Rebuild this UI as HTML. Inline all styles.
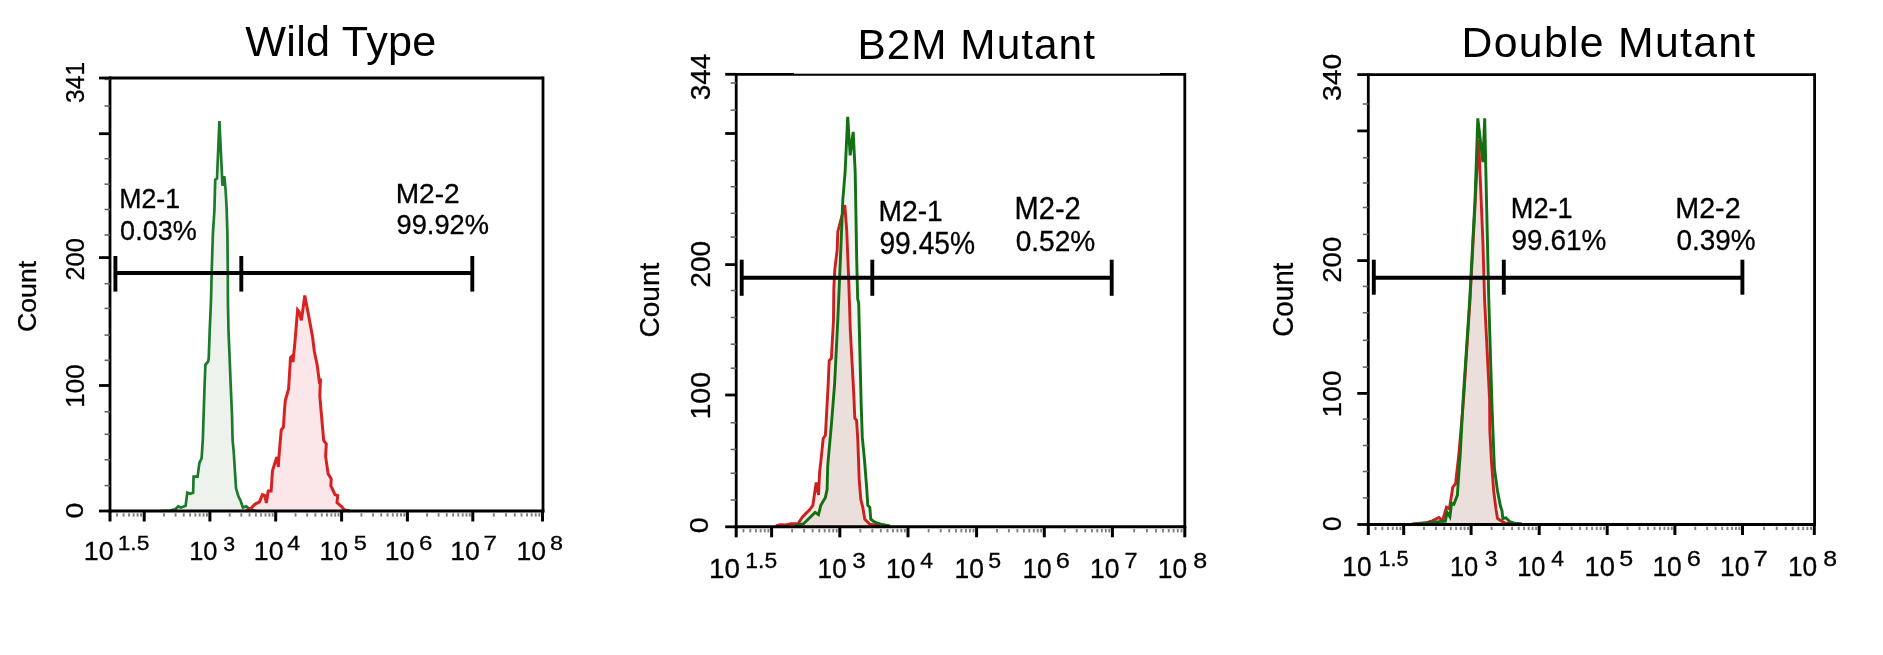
<!DOCTYPE html>
<html><head><meta charset="utf-8"><title>Flow cytometry histograms</title>
<style>html,body{margin:0;padding:0;background:#fff;} svg{display:block;} text{font-family:"Liberation Sans",sans-serif;font-size:100px;}</style>
</head><body>
<svg width="1883" height="655" viewBox="0 0 1883 655">
<rect width="1883" height="655" fill="#fff"/>
<polygon points="160.0,511.0 160.0,511.0 170.0,510.5 175.3,509.3 178.2,506.4 181.0,507.6 185.6,505.8 187.3,492.7 190.2,493.8 193.1,492.7 193.6,476.6 197.6,476.6 199.4,462.9 201.6,458.3 202.8,440.0 204.5,387.5 205.4,364.8 208.2,361.4 208.7,358.5 209.7,331.0 211.0,300.5 211.7,271.6 212.9,233.4 214.4,210.5 215.2,179.7 217.0,178.5 219.4,121.0 222.5,185.8 224.3,176.0 225.6,190.0 226.6,207.5 227.4,233.4 227.8,271.6 227.9,300.5 228.5,331.0 229.7,360.0 230.8,387.5 232.0,415.0 232.6,440.0 233.7,451.5 236.0,488.1 238.3,496.1 240.6,500.7 242.9,507.6 246.3,506.4 249.7,509.3 256.0,511.0 256.0,511.0" fill="#edf2ec" stroke="none" style="mix-blend-mode:multiply"/>
<polygon points="246.0,511.0 246.0,511.0 251.5,507.7 255.1,504.1 259.5,501.9 262.4,494.6 264.6,495.4 266.4,503.0 268.2,491.0 271.1,491.0 272.5,470.7 274.7,463.5 276.9,457.0 278.3,467.0 279.0,456.2 281.2,430.1 283.4,427.2 284.5,410.0 285.3,400.5 288.6,389.0 290.5,357.6 292.4,355.7 293.0,362.0 294.9,342.3 297.6,309.8 299.1,311.7 301.4,320.3 304.8,295.5 308.6,315.6 312.5,336.6 314.4,351.8 317.2,365.2 319.2,380.5 320.5,378.6 319.8,395.8 321.0,410.0 323.7,440.4 326.3,443.9 325.6,456.1 328.1,473.7 331.2,479.0 330.9,486.0 335.1,494.7 337.7,495.6 337.0,502.6 342.1,507.0 343.9,509.6 350.0,511.0 350.0,511.0" fill="#fbe7e9" stroke="none" style="mix-blend-mode:multiply"/>
<line x1="116.98" y1="513.20" x2="116.98" y2="516.60" stroke="#808080" stroke-width="1.9" stroke-linecap="butt"/>
<line x1="123.61" y1="513.20" x2="123.61" y2="516.60" stroke="#808080" stroke-width="1.9" stroke-linecap="butt"/>
<line x1="129.03" y1="513.20" x2="129.03" y2="516.60" stroke="#808080" stroke-width="1.9" stroke-linecap="butt"/>
<line x1="133.60" y1="513.20" x2="133.60" y2="516.60" stroke="#808080" stroke-width="1.9" stroke-linecap="butt"/>
<line x1="137.57" y1="513.20" x2="137.57" y2="516.60" stroke="#808080" stroke-width="1.9" stroke-linecap="butt"/>
<line x1="141.07" y1="513.20" x2="141.07" y2="516.60" stroke="#808080" stroke-width="1.9" stroke-linecap="butt"/>
<line x1="163.98" y1="513.20" x2="163.98" y2="516.60" stroke="#808080" stroke-width="1.9" stroke-linecap="butt"/>
<line x1="175.55" y1="513.20" x2="175.55" y2="516.60" stroke="#808080" stroke-width="1.9" stroke-linecap="butt"/>
<line x1="183.76" y1="513.20" x2="183.76" y2="516.60" stroke="#808080" stroke-width="1.9" stroke-linecap="butt"/>
<line x1="190.12" y1="513.20" x2="190.12" y2="516.60" stroke="#808080" stroke-width="1.9" stroke-linecap="butt"/>
<line x1="195.32" y1="513.20" x2="195.32" y2="516.60" stroke="#808080" stroke-width="1.9" stroke-linecap="butt"/>
<line x1="199.72" y1="513.20" x2="199.72" y2="516.60" stroke="#808080" stroke-width="1.9" stroke-linecap="butt"/>
<line x1="203.53" y1="513.20" x2="203.53" y2="516.60" stroke="#808080" stroke-width="1.9" stroke-linecap="butt"/>
<line x1="206.89" y1="513.20" x2="206.89" y2="516.60" stroke="#808080" stroke-width="1.9" stroke-linecap="butt"/>
<line x1="229.71" y1="513.20" x2="229.71" y2="516.60" stroke="#808080" stroke-width="1.9" stroke-linecap="butt"/>
<line x1="241.29" y1="513.20" x2="241.29" y2="516.60" stroke="#808080" stroke-width="1.9" stroke-linecap="butt"/>
<line x1="249.52" y1="513.20" x2="249.52" y2="516.60" stroke="#808080" stroke-width="1.9" stroke-linecap="butt"/>
<line x1="255.89" y1="513.20" x2="255.89" y2="516.60" stroke="#808080" stroke-width="1.9" stroke-linecap="butt"/>
<line x1="261.10" y1="513.20" x2="261.10" y2="516.60" stroke="#808080" stroke-width="1.9" stroke-linecap="butt"/>
<line x1="265.51" y1="513.20" x2="265.51" y2="516.60" stroke="#808080" stroke-width="1.9" stroke-linecap="butt"/>
<line x1="269.32" y1="513.20" x2="269.32" y2="516.60" stroke="#808080" stroke-width="1.9" stroke-linecap="butt"/>
<line x1="272.69" y1="513.20" x2="272.69" y2="516.60" stroke="#808080" stroke-width="1.9" stroke-linecap="butt"/>
<line x1="295.54" y1="513.20" x2="295.54" y2="516.60" stroke="#808080" stroke-width="1.9" stroke-linecap="butt"/>
<line x1="307.14" y1="513.20" x2="307.14" y2="516.60" stroke="#808080" stroke-width="1.9" stroke-linecap="butt"/>
<line x1="315.38" y1="513.20" x2="315.38" y2="516.60" stroke="#808080" stroke-width="1.9" stroke-linecap="butt"/>
<line x1="321.76" y1="513.20" x2="321.76" y2="516.60" stroke="#808080" stroke-width="1.9" stroke-linecap="butt"/>
<line x1="326.98" y1="513.20" x2="326.98" y2="516.60" stroke="#808080" stroke-width="1.9" stroke-linecap="butt"/>
<line x1="331.39" y1="513.20" x2="331.39" y2="516.60" stroke="#808080" stroke-width="1.9" stroke-linecap="butt"/>
<line x1="335.21" y1="513.20" x2="335.21" y2="516.60" stroke="#808080" stroke-width="1.9" stroke-linecap="butt"/>
<line x1="338.58" y1="513.20" x2="338.58" y2="516.60" stroke="#808080" stroke-width="1.9" stroke-linecap="butt"/>
<line x1="361.41" y1="513.20" x2="361.41" y2="516.60" stroke="#808080" stroke-width="1.9" stroke-linecap="butt"/>
<line x1="372.99" y1="513.20" x2="372.99" y2="516.60" stroke="#808080" stroke-width="1.9" stroke-linecap="butt"/>
<line x1="381.22" y1="513.20" x2="381.22" y2="516.60" stroke="#808080" stroke-width="1.9" stroke-linecap="butt"/>
<line x1="387.59" y1="513.20" x2="387.59" y2="516.60" stroke="#808080" stroke-width="1.9" stroke-linecap="butt"/>
<line x1="392.80" y1="513.20" x2="392.80" y2="516.60" stroke="#808080" stroke-width="1.9" stroke-linecap="butt"/>
<line x1="397.21" y1="513.20" x2="397.21" y2="516.60" stroke="#808080" stroke-width="1.9" stroke-linecap="butt"/>
<line x1="401.02" y1="513.20" x2="401.02" y2="516.60" stroke="#808080" stroke-width="1.9" stroke-linecap="butt"/>
<line x1="404.39" y1="513.20" x2="404.39" y2="516.60" stroke="#808080" stroke-width="1.9" stroke-linecap="butt"/>
<line x1="427.09" y1="513.20" x2="427.09" y2="516.60" stroke="#808080" stroke-width="1.9" stroke-linecap="butt"/>
<line x1="438.60" y1="513.20" x2="438.60" y2="516.60" stroke="#808080" stroke-width="1.9" stroke-linecap="butt"/>
<line x1="446.77" y1="513.20" x2="446.77" y2="516.60" stroke="#808080" stroke-width="1.9" stroke-linecap="butt"/>
<line x1="453.11" y1="513.20" x2="453.11" y2="516.60" stroke="#808080" stroke-width="1.9" stroke-linecap="butt"/>
<line x1="458.29" y1="513.20" x2="458.29" y2="516.60" stroke="#808080" stroke-width="1.9" stroke-linecap="butt"/>
<line x1="462.67" y1="513.20" x2="462.67" y2="516.60" stroke="#808080" stroke-width="1.9" stroke-linecap="butt"/>
<line x1="466.46" y1="513.20" x2="466.46" y2="516.60" stroke="#808080" stroke-width="1.9" stroke-linecap="butt"/>
<line x1="469.81" y1="513.20" x2="469.81" y2="516.60" stroke="#808080" stroke-width="1.9" stroke-linecap="butt"/>
<line x1="493.78" y1="513.20" x2="493.78" y2="516.60" stroke="#808080" stroke-width="1.9" stroke-linecap="butt"/>
<line x1="506.06" y1="513.20" x2="506.06" y2="516.60" stroke="#808080" stroke-width="1.9" stroke-linecap="butt"/>
<line x1="514.76" y1="513.20" x2="514.76" y2="516.60" stroke="#808080" stroke-width="1.9" stroke-linecap="butt"/>
<line x1="521.52" y1="513.20" x2="521.52" y2="516.60" stroke="#808080" stroke-width="1.9" stroke-linecap="butt"/>
<line x1="527.04" y1="513.20" x2="527.04" y2="516.60" stroke="#808080" stroke-width="1.9" stroke-linecap="butt"/>
<line x1="531.70" y1="513.20" x2="531.70" y2="516.60" stroke="#808080" stroke-width="1.9" stroke-linecap="butt"/>
<line x1="535.75" y1="513.20" x2="535.75" y2="516.60" stroke="#808080" stroke-width="1.9" stroke-linecap="butt"/>
<line x1="539.31" y1="513.20" x2="539.31" y2="516.60" stroke="#808080" stroke-width="1.9" stroke-linecap="butt"/>
<polyline points="160.0,511.0 170.0,510.5 175.3,509.3 178.2,506.4 181.0,507.6 185.6,505.8 187.3,492.7 190.2,493.8 193.1,492.7 193.6,476.6 197.6,476.6 199.4,462.9 201.6,458.3 202.8,440.0 204.5,387.5 205.4,364.8 208.2,361.4 208.7,358.5 209.7,331.0 211.0,300.5 211.7,271.6 212.9,233.4 214.4,210.5 215.2,179.7 217.0,178.5 219.4,121.0 222.5,185.8 224.3,176.0 225.6,190.0 226.6,207.5 227.4,233.4 227.8,271.6 227.9,300.5 228.5,331.0 229.7,360.0 230.8,387.5 232.0,415.0 232.6,440.0 233.7,451.5 236.0,488.1 238.3,496.1 240.6,500.7 242.9,507.6 246.3,506.4 249.7,509.3 256.0,511.0" fill="none" stroke="#1b7a2c" stroke-width="2.7" stroke-linejoin="miter" stroke-miterlimit="3"/>
<polyline points="246.0,511.0 251.5,507.7 255.1,504.1 259.5,501.9 262.4,494.6 264.6,495.4 266.4,503.0 268.2,491.0 271.1,491.0 272.5,470.7 274.7,463.5 276.9,457.0 278.3,467.0 279.0,456.2 281.2,430.1 283.4,427.2 284.5,410.0 285.3,400.5 288.6,389.0 290.5,357.6 292.4,355.7 293.0,362.0 294.9,342.3 297.6,309.8 299.1,311.7 301.4,320.3 304.8,295.5 308.6,315.6 312.5,336.6 314.4,351.8 317.2,365.2 319.2,380.5 320.5,378.6 319.8,395.8 321.0,410.0 323.7,440.4 326.3,443.9 325.6,456.1 328.1,473.7 331.2,479.0 330.9,486.0 335.1,494.7 337.7,495.6 337.0,502.6 342.1,507.0 343.9,509.6 350.0,511.0" fill="none" stroke="#d82222" stroke-width="3.0" stroke-linejoin="miter" stroke-miterlimit="3"/>
<line x1="110.00" y1="78.00" x2="543.00" y2="78.00" stroke="#000" stroke-width="2.8" stroke-linecap="butt"/>
<line x1="110.00" y1="76.60" x2="110.00" y2="512.50" stroke="#000" stroke-width="2.8" stroke-linecap="butt"/>
<line x1="543.00" y1="76.60" x2="543.00" y2="512.50" stroke="#000" stroke-width="2.8" stroke-linecap="butt"/>
<line x1="108.60" y1="511.00" x2="544.40" y2="511.00" stroke="#000" stroke-width="3.0" stroke-linecap="butt"/>
<line x1="104.50" y1="485.60" x2="110.00" y2="485.60" stroke="#666" stroke-width="1.6" stroke-linecap="butt"/>
<line x1="104.50" y1="459.80" x2="110.00" y2="459.80" stroke="#666" stroke-width="1.6" stroke-linecap="butt"/>
<line x1="104.50" y1="434.30" x2="110.00" y2="434.30" stroke="#666" stroke-width="1.6" stroke-linecap="butt"/>
<line x1="104.50" y1="411.80" x2="110.00" y2="411.80" stroke="#666" stroke-width="1.6" stroke-linecap="butt"/>
<line x1="104.50" y1="360.30" x2="110.00" y2="360.30" stroke="#666" stroke-width="1.6" stroke-linecap="butt"/>
<line x1="104.50" y1="335.10" x2="110.00" y2="335.10" stroke="#666" stroke-width="1.6" stroke-linecap="butt"/>
<line x1="104.50" y1="308.40" x2="110.00" y2="308.40" stroke="#666" stroke-width="1.6" stroke-linecap="butt"/>
<line x1="104.50" y1="283.70" x2="110.00" y2="283.70" stroke="#666" stroke-width="1.6" stroke-linecap="butt"/>
<line x1="104.50" y1="235.00" x2="110.00" y2="235.00" stroke="#666" stroke-width="1.6" stroke-linecap="butt"/>
<line x1="104.50" y1="209.50" x2="110.00" y2="209.50" stroke="#666" stroke-width="1.6" stroke-linecap="butt"/>
<line x1="104.50" y1="184.20" x2="110.00" y2="184.20" stroke="#666" stroke-width="1.6" stroke-linecap="butt"/>
<line x1="104.50" y1="158.70" x2="110.00" y2="158.70" stroke="#666" stroke-width="1.6" stroke-linecap="butt"/>
<line x1="104.50" y1="106.00" x2="110.00" y2="106.00" stroke="#666" stroke-width="1.6" stroke-linecap="butt"/>
<line x1="104.50" y1="79.33" x2="110.00" y2="79.33" stroke="#666" stroke-width="1.6" stroke-linecap="butt"/>
<line x1="99.00" y1="511.00" x2="110.00" y2="511.00" stroke="#000" stroke-width="2.8" stroke-linecap="butt"/>
<line x1="99.00" y1="385.50" x2="110.00" y2="385.50" stroke="#000" stroke-width="2.8" stroke-linecap="butt"/>
<line x1="99.00" y1="257.60" x2="110.00" y2="257.60" stroke="#000" stroke-width="2.8" stroke-linecap="butt"/>
<line x1="99.00" y1="133.70" x2="110.00" y2="133.70" stroke="#000" stroke-width="2.8" stroke-linecap="butt"/>
<line x1="99.00" y1="78.00" x2="110.00" y2="78.00" stroke="#000" stroke-width="2.8" stroke-linecap="butt"/>
<line x1="110.00" y1="511.00" x2="110.00" y2="521.50" stroke="#000" stroke-width="3.0" stroke-linecap="butt"/>
<line x1="144.20" y1="511.00" x2="144.20" y2="521.50" stroke="#000" stroke-width="3.0" stroke-linecap="butt"/>
<line x1="209.90" y1="511.00" x2="209.90" y2="521.50" stroke="#000" stroke-width="3.0" stroke-linecap="butt"/>
<line x1="275.70" y1="511.00" x2="275.70" y2="521.50" stroke="#000" stroke-width="3.0" stroke-linecap="butt"/>
<line x1="341.60" y1="511.00" x2="341.60" y2="521.50" stroke="#000" stroke-width="3.0" stroke-linecap="butt"/>
<line x1="407.40" y1="511.00" x2="407.40" y2="521.50" stroke="#000" stroke-width="3.0" stroke-linecap="butt"/>
<line x1="472.80" y1="511.00" x2="472.80" y2="521.50" stroke="#000" stroke-width="3.0" stroke-linecap="butt"/>
<line x1="542.50" y1="511.00" x2="542.50" y2="521.50" stroke="#000" stroke-width="3.0" stroke-linecap="butt"/>
<line x1="115.40" y1="273.00" x2="472.30" y2="273.00" stroke="#000" stroke-width="3.9" stroke-linecap="butt"/>
<line x1="115.40" y1="256.00" x2="115.40" y2="291.60" stroke="#000" stroke-width="3.9" stroke-linecap="butt"/>
<line x1="241.30" y1="256.00" x2="241.30" y2="291.60" stroke="#000" stroke-width="3.9" stroke-linecap="butt"/>
<line x1="472.30" y1="256.00" x2="472.30" y2="291.60" stroke="#000" stroke-width="3.9" stroke-linecap="butt"/>
<text x="245.37" y="55.80" style="font-size:43.17px;letter-spacing:0.278px">Wild Type</text>
<text transform="matrix(0.2670 0 0 0.2820 119.26 207.90)" fill="#000" stroke="#000" stroke-width="1.093" >M2-1</text>
<text transform="matrix(0.2703 0 0 0.2849 120.12 239.60)" fill="#000" stroke="#000" stroke-width="1.081" >0.03%</text>
<text transform="matrix(0.2814 0 0 0.2719 395.65 202.80)" fill="#000" stroke="#000" stroke-width="1.084" >M2-2</text>
<text transform="matrix(0.2728 0 0 0.2763 396.54 233.90)" fill="#000" stroke="#000" stroke-width="1.093" >99.92%</text>
<text transform="matrix(0.2687 0 0 0.2633 83.85 560.00)" fill="#000" stroke="#000" stroke-width="1.128" >10</text>
<text transform="matrix(0.2283 0 0 0.2014 117.67 550.00)" fill="#000" stroke="#000" stroke-width="1.396" >1.5</text>
<text transform="matrix(0.2545 0 0 0.2633 189.16 560.00)" fill="#000" stroke="#000" stroke-width="1.159" >10</text>
<text transform="matrix(0.2128 0 0 0.1942 223.15 550.50)" fill="#000" stroke="#000" stroke-width="1.474" >3</text>
<text transform="matrix(0.2677 0 0 0.2633 253.86 560.00)" fill="#000" stroke="#000" stroke-width="1.130" >10</text>
<text transform="matrix(0.2333 0 0 0.1971 287.13 549.70)" fill="#000" stroke="#000" stroke-width="1.394" >4</text>
<text transform="matrix(0.2576 0 0 0.2633 319.54 560.00)" fill="#000" stroke="#000" stroke-width="1.152" >10</text>
<text transform="matrix(0.2362 0 0 0.1971 353.76 549.70)" fill="#000" stroke="#000" stroke-width="1.385" >5</text>
<text transform="matrix(0.2667 0 0 0.2633 384.87 560.00)" fill="#000" stroke="#000" stroke-width="1.132" >10</text>
<text transform="matrix(0.2413 0 0 0.1971 418.89 549.70)" fill="#000" stroke="#000" stroke-width="1.369" >6</text>
<text transform="matrix(0.2667 0 0 0.2633 450.27 560.00)" fill="#000" stroke="#000" stroke-width="1.132" >10</text>
<text transform="matrix(0.2413 0 0 0.1971 483.49 549.70)" fill="#000" stroke="#000" stroke-width="1.369" >7</text>
<text transform="matrix(0.2657 0 0 0.2633 516.57 560.00)" fill="#000" stroke="#000" stroke-width="1.134" >10</text>
<text transform="matrix(0.2340 0 0 0.1971 550.06 549.70)" fill="#000" stroke="#000" stroke-width="1.392" >8</text>
<text transform="translate(83.60 102.88) rotate(-90) scale(0.2462 0.2633)" stroke="#000" stroke-width="1.178">341</text>
<text transform="translate(83.60 280.58) rotate(-90) scale(0.2551 0.2604)" stroke="#000" stroke-width="1.164">200</text>
<text transform="translate(83.60 407.78) rotate(-90) scale(0.2600 0.2604)" stroke="#000" stroke-width="1.153">100</text>
<text transform="translate(82.90 518.54) rotate(-90) scale(0.2854 0.2475)" stroke="#000" stroke-width="1.126">0</text>
<text transform="translate(35.70 332.03) rotate(-90) scale(0.2667 0.2633)" stroke="#000" stroke-width="1.132">Count</text>
<polygon points="776.0,526.8 776.0,526.0 780.0,524.8 786.0,525.0 791.0,523.8 797.9,523.8 802.5,516.9 805.9,513.4 809.4,510.0 812.8,505.4 816.2,482.5 818.5,495.0 819.7,471.0 820.8,461.9 823.2,438.5 825.4,435.3 828.2,384.0 829.2,360.6 831.4,358.4 833.5,320.0 833.8,289.3 834.8,269.4 837.2,249.6 837.8,231.7 839.8,223.8 844.8,205.0 846.7,229.8 848.7,279.4 850.3,330.0 853.8,394.7 854.8,418.2 856.6,420.4 857.8,439.7 859.2,479.5 860.8,499.3 862.8,507.3 864.8,519.2 869.8,524.2 880.0,526.0 880.0,526.8" fill="#f9e8e6" stroke="none" style="mix-blend-mode:multiply"/>
<polygon points="795.0,526.8 795.0,526.0 803.6,523.7 811.7,515.7 815.1,512.3 818.5,514.6 820.8,505.4 825.4,497.4 827.1,489.4 827.7,466.5 828.2,460.0 831.4,424.6 832.4,411.8 834.6,384.0 837.8,320.0 840.8,249.6 842.8,200.0 845.1,172.2 847.7,116.8 850.2,155.4 853.2,131.9 855.2,172.2 855.7,200.0 856.7,259.5 857.7,299.2 858.7,303.0 859.1,320.0 861.2,405.4 862.3,437.4 864.5,460.0 866.8,489.4 867.8,505.3 869.8,507.3 870.8,519.2 874.7,522.2 880.7,524.2 890.0,526.0 890.0,526.8" fill="#f0f5f2" stroke="none" style="mix-blend-mode:multiply"/>
<line x1="743.43" y1="529.00" x2="743.43" y2="532.40" stroke="#808080" stroke-width="1.9" stroke-linecap="butt"/>
<line x1="750.29" y1="529.00" x2="750.29" y2="532.40" stroke="#808080" stroke-width="1.9" stroke-linecap="butt"/>
<line x1="755.89" y1="529.00" x2="755.89" y2="532.40" stroke="#808080" stroke-width="1.9" stroke-linecap="butt"/>
<line x1="760.63" y1="529.00" x2="760.63" y2="532.40" stroke="#808080" stroke-width="1.9" stroke-linecap="butt"/>
<line x1="764.74" y1="529.00" x2="764.74" y2="532.40" stroke="#808080" stroke-width="1.9" stroke-linecap="butt"/>
<line x1="768.36" y1="529.00" x2="768.36" y2="532.40" stroke="#808080" stroke-width="1.9" stroke-linecap="butt"/>
<line x1="792.13" y1="529.00" x2="792.13" y2="532.40" stroke="#808080" stroke-width="1.9" stroke-linecap="butt"/>
<line x1="804.14" y1="529.00" x2="804.14" y2="532.40" stroke="#808080" stroke-width="1.9" stroke-linecap="butt"/>
<line x1="812.66" y1="529.00" x2="812.66" y2="532.40" stroke="#808080" stroke-width="1.9" stroke-linecap="butt"/>
<line x1="819.27" y1="529.00" x2="819.27" y2="532.40" stroke="#808080" stroke-width="1.9" stroke-linecap="butt"/>
<line x1="824.67" y1="529.00" x2="824.67" y2="532.40" stroke="#808080" stroke-width="1.9" stroke-linecap="butt"/>
<line x1="829.24" y1="529.00" x2="829.24" y2="532.40" stroke="#808080" stroke-width="1.9" stroke-linecap="butt"/>
<line x1="833.19" y1="529.00" x2="833.19" y2="532.40" stroke="#808080" stroke-width="1.9" stroke-linecap="butt"/>
<line x1="836.68" y1="529.00" x2="836.68" y2="532.40" stroke="#808080" stroke-width="1.9" stroke-linecap="butt"/>
<line x1="860.33" y1="529.00" x2="860.33" y2="532.40" stroke="#808080" stroke-width="1.9" stroke-linecap="butt"/>
<line x1="872.34" y1="529.00" x2="872.34" y2="532.40" stroke="#808080" stroke-width="1.9" stroke-linecap="butt"/>
<line x1="880.86" y1="529.00" x2="880.86" y2="532.40" stroke="#808080" stroke-width="1.9" stroke-linecap="butt"/>
<line x1="887.47" y1="529.00" x2="887.47" y2="532.40" stroke="#808080" stroke-width="1.9" stroke-linecap="butt"/>
<line x1="892.87" y1="529.00" x2="892.87" y2="532.40" stroke="#808080" stroke-width="1.9" stroke-linecap="butt"/>
<line x1="897.44" y1="529.00" x2="897.44" y2="532.40" stroke="#808080" stroke-width="1.9" stroke-linecap="butt"/>
<line x1="901.39" y1="529.00" x2="901.39" y2="532.40" stroke="#808080" stroke-width="1.9" stroke-linecap="butt"/>
<line x1="904.88" y1="529.00" x2="904.88" y2="532.40" stroke="#808080" stroke-width="1.9" stroke-linecap="butt"/>
<line x1="928.65" y1="529.00" x2="928.65" y2="532.40" stroke="#808080" stroke-width="1.9" stroke-linecap="butt"/>
<line x1="940.73" y1="529.00" x2="940.73" y2="532.40" stroke="#808080" stroke-width="1.9" stroke-linecap="butt"/>
<line x1="949.30" y1="529.00" x2="949.30" y2="532.40" stroke="#808080" stroke-width="1.9" stroke-linecap="butt"/>
<line x1="955.95" y1="529.00" x2="955.95" y2="532.40" stroke="#808080" stroke-width="1.9" stroke-linecap="butt"/>
<line x1="961.38" y1="529.00" x2="961.38" y2="532.40" stroke="#808080" stroke-width="1.9" stroke-linecap="butt"/>
<line x1="965.97" y1="529.00" x2="965.97" y2="532.40" stroke="#808080" stroke-width="1.9" stroke-linecap="butt"/>
<line x1="969.95" y1="529.00" x2="969.95" y2="532.40" stroke="#808080" stroke-width="1.9" stroke-linecap="butt"/>
<line x1="973.46" y1="529.00" x2="973.46" y2="532.40" stroke="#808080" stroke-width="1.9" stroke-linecap="butt"/>
<line x1="996.98" y1="529.00" x2="996.98" y2="532.40" stroke="#808080" stroke-width="1.9" stroke-linecap="butt"/>
<line x1="1008.90" y1="529.00" x2="1008.90" y2="532.40" stroke="#808080" stroke-width="1.9" stroke-linecap="butt"/>
<line x1="1017.36" y1="529.00" x2="1017.36" y2="532.40" stroke="#808080" stroke-width="1.9" stroke-linecap="butt"/>
<line x1="1023.92" y1="529.00" x2="1023.92" y2="532.40" stroke="#808080" stroke-width="1.9" stroke-linecap="butt"/>
<line x1="1029.28" y1="529.00" x2="1029.28" y2="532.40" stroke="#808080" stroke-width="1.9" stroke-linecap="butt"/>
<line x1="1033.81" y1="529.00" x2="1033.81" y2="532.40" stroke="#808080" stroke-width="1.9" stroke-linecap="butt"/>
<line x1="1037.74" y1="529.00" x2="1037.74" y2="532.40" stroke="#808080" stroke-width="1.9" stroke-linecap="butt"/>
<line x1="1041.20" y1="529.00" x2="1041.20" y2="532.40" stroke="#808080" stroke-width="1.9" stroke-linecap="butt"/>
<line x1="1064.80" y1="529.00" x2="1064.80" y2="532.40" stroke="#808080" stroke-width="1.9" stroke-linecap="butt"/>
<line x1="1076.79" y1="529.00" x2="1076.79" y2="532.40" stroke="#808080" stroke-width="1.9" stroke-linecap="butt"/>
<line x1="1085.30" y1="529.00" x2="1085.30" y2="532.40" stroke="#808080" stroke-width="1.9" stroke-linecap="butt"/>
<line x1="1091.90" y1="529.00" x2="1091.90" y2="532.40" stroke="#808080" stroke-width="1.9" stroke-linecap="butt"/>
<line x1="1097.29" y1="529.00" x2="1097.29" y2="532.40" stroke="#808080" stroke-width="1.9" stroke-linecap="butt"/>
<line x1="1101.85" y1="529.00" x2="1101.85" y2="532.40" stroke="#808080" stroke-width="1.9" stroke-linecap="butt"/>
<line x1="1105.80" y1="529.00" x2="1105.80" y2="532.40" stroke="#808080" stroke-width="1.9" stroke-linecap="butt"/>
<line x1="1109.28" y1="529.00" x2="1109.28" y2="532.40" stroke="#808080" stroke-width="1.9" stroke-linecap="butt"/>
<line x1="1134.19" y1="529.00" x2="1134.19" y2="532.40" stroke="#808080" stroke-width="1.9" stroke-linecap="butt"/>
<line x1="1146.94" y1="529.00" x2="1146.94" y2="532.40" stroke="#808080" stroke-width="1.9" stroke-linecap="butt"/>
<line x1="1155.99" y1="529.00" x2="1155.99" y2="532.40" stroke="#808080" stroke-width="1.9" stroke-linecap="butt"/>
<line x1="1163.01" y1="529.00" x2="1163.01" y2="532.40" stroke="#808080" stroke-width="1.9" stroke-linecap="butt"/>
<line x1="1168.74" y1="529.00" x2="1168.74" y2="532.40" stroke="#808080" stroke-width="1.9" stroke-linecap="butt"/>
<line x1="1173.59" y1="529.00" x2="1173.59" y2="532.40" stroke="#808080" stroke-width="1.9" stroke-linecap="butt"/>
<line x1="1177.78" y1="529.00" x2="1177.78" y2="532.40" stroke="#808080" stroke-width="1.9" stroke-linecap="butt"/>
<line x1="1181.49" y1="529.00" x2="1181.49" y2="532.40" stroke="#808080" stroke-width="1.9" stroke-linecap="butt"/>
<polyline points="776.0,526.0 780.0,524.8 786.0,525.0 791.0,523.8 797.9,523.8 802.5,516.9 805.9,513.4 809.4,510.0 812.8,505.4 816.2,482.5 818.5,495.0 819.7,471.0 820.8,461.9 823.2,438.5 825.4,435.3 828.2,384.0 829.2,360.6 831.4,358.4 833.5,320.0 833.8,289.3 834.8,269.4 837.2,249.6 837.8,231.7 839.8,223.8 844.8,205.0 846.7,229.8 848.7,279.4 850.3,330.0 853.8,394.7 854.8,418.2 856.6,420.4 857.8,439.7 859.2,479.5 860.8,499.3 862.8,507.3 864.8,519.2 869.8,524.2 880.0,526.0" fill="none" stroke="#cc2020" stroke-width="2.9" stroke-linejoin="miter" stroke-miterlimit="3"/>
<polyline points="795.0,526.0 803.6,523.7 811.7,515.7 815.1,512.3 818.5,514.6 820.8,505.4 825.4,497.4 827.1,489.4 827.7,466.5 828.2,460.0 831.4,424.6 832.4,411.8 834.6,384.0 837.8,320.0 840.8,249.6 842.8,200.0 845.1,172.2 847.7,116.8 850.2,155.4 853.2,131.9 855.2,172.2 855.7,200.0 856.7,259.5 857.7,299.2 858.7,303.0 859.1,320.0 861.2,405.4 862.3,437.4 864.5,460.0 866.8,489.4 867.8,505.3 869.8,507.3 870.8,519.2 874.7,522.2 880.7,524.2 890.0,526.0" fill="none" stroke="#127012" stroke-width="2.9" stroke-linejoin="miter" stroke-miterlimit="3"/>
<line x1="736.20" y1="74.30" x2="1184.80" y2="74.30" stroke="#000" stroke-width="2.8" stroke-linecap="butt"/>
<line x1="736.20" y1="72.90" x2="736.20" y2="528.30" stroke="#000" stroke-width="2.8" stroke-linecap="butt"/>
<line x1="1184.80" y1="72.90" x2="1184.80" y2="528.30" stroke="#000" stroke-width="2.8" stroke-linecap="butt"/>
<line x1="734.80" y1="526.80" x2="1186.20" y2="526.80" stroke="#000" stroke-width="3.0" stroke-linecap="butt"/>
<line x1="730.70" y1="500.00" x2="736.20" y2="500.00" stroke="#666" stroke-width="1.6" stroke-linecap="butt"/>
<line x1="730.70" y1="473.20" x2="736.20" y2="473.20" stroke="#666" stroke-width="1.6" stroke-linecap="butt"/>
<line x1="730.70" y1="449.50" x2="736.20" y2="449.50" stroke="#666" stroke-width="1.6" stroke-linecap="butt"/>
<line x1="730.70" y1="422.80" x2="736.20" y2="422.80" stroke="#666" stroke-width="1.6" stroke-linecap="butt"/>
<line x1="730.70" y1="368.20" x2="736.20" y2="368.20" stroke="#666" stroke-width="1.6" stroke-linecap="butt"/>
<line x1="730.70" y1="344.20" x2="736.20" y2="344.20" stroke="#666" stroke-width="1.6" stroke-linecap="butt"/>
<line x1="730.70" y1="317.50" x2="736.20" y2="317.50" stroke="#666" stroke-width="1.6" stroke-linecap="butt"/>
<line x1="730.70" y1="290.50" x2="736.20" y2="290.50" stroke="#666" stroke-width="1.6" stroke-linecap="butt"/>
<line x1="730.70" y1="237.10" x2="736.20" y2="237.10" stroke="#666" stroke-width="1.6" stroke-linecap="butt"/>
<line x1="730.70" y1="213.20" x2="736.20" y2="213.20" stroke="#666" stroke-width="1.6" stroke-linecap="butt"/>
<line x1="730.70" y1="186.80" x2="736.20" y2="186.80" stroke="#666" stroke-width="1.6" stroke-linecap="butt"/>
<line x1="730.70" y1="160.70" x2="736.20" y2="160.70" stroke="#666" stroke-width="1.6" stroke-linecap="butt"/>
<line x1="730.70" y1="110.10" x2="736.20" y2="110.10" stroke="#666" stroke-width="1.6" stroke-linecap="butt"/>
<line x1="730.70" y1="83.00" x2="736.20" y2="83.00" stroke="#666" stroke-width="1.6" stroke-linecap="butt"/>
<line x1="725.20" y1="526.80" x2="736.20" y2="526.80" stroke="#000" stroke-width="2.8" stroke-linecap="butt"/>
<line x1="725.20" y1="395.00" x2="736.20" y2="395.00" stroke="#000" stroke-width="2.8" stroke-linecap="butt"/>
<line x1="725.20" y1="264.60" x2="736.20" y2="264.60" stroke="#000" stroke-width="2.8" stroke-linecap="butt"/>
<line x1="725.20" y1="133.50" x2="736.20" y2="133.50" stroke="#000" stroke-width="2.8" stroke-linecap="butt"/>
<line x1="725.20" y1="74.30" x2="736.20" y2="74.30" stroke="#000" stroke-width="2.8" stroke-linecap="butt"/>
<line x1="736.20" y1="526.80" x2="736.20" y2="537.30" stroke="#000" stroke-width="3.0" stroke-linecap="butt"/>
<line x1="771.60" y1="526.80" x2="771.60" y2="537.30" stroke="#000" stroke-width="3.0" stroke-linecap="butt"/>
<line x1="839.80" y1="526.80" x2="839.80" y2="537.30" stroke="#000" stroke-width="3.0" stroke-linecap="butt"/>
<line x1="908.00" y1="526.80" x2="908.00" y2="537.30" stroke="#000" stroke-width="3.0" stroke-linecap="butt"/>
<line x1="976.60" y1="526.80" x2="976.60" y2="537.30" stroke="#000" stroke-width="3.0" stroke-linecap="butt"/>
<line x1="1044.30" y1="526.80" x2="1044.30" y2="537.30" stroke="#000" stroke-width="3.0" stroke-linecap="butt"/>
<line x1="1112.40" y1="526.80" x2="1112.40" y2="537.30" stroke="#000" stroke-width="3.0" stroke-linecap="butt"/>
<line x1="1184.80" y1="526.80" x2="1184.80" y2="537.30" stroke="#000" stroke-width="3.0" stroke-linecap="butt"/>
<line x1="741.70" y1="277.70" x2="1111.70" y2="277.70" stroke="#000" stroke-width="3.9" stroke-linecap="butt"/>
<line x1="741.70" y1="259.70" x2="741.70" y2="295.80" stroke="#000" stroke-width="3.9" stroke-linecap="butt"/>
<line x1="872.30" y1="259.70" x2="872.30" y2="295.80" stroke="#000" stroke-width="3.9" stroke-linecap="butt"/>
<line x1="1111.70" y1="259.70" x2="1111.70" y2="295.80" stroke="#000" stroke-width="3.9" stroke-linecap="butt"/>
<rect x="794" y="72.3" width="366" height="1.4" fill="#fff"/>
<text x="857.42" y="58.80" style="font-size:42.30px;letter-spacing:1.055px">B2M Mutant</text>
<text transform="matrix(0.2819 0 0 0.2906 878.55 221.40)" fill="#000" stroke="#000" stroke-width="1.048" >M2-1</text>
<text transform="matrix(0.2825 0 0 0.3050 879.39 254.30)" fill="#000" stroke="#000" stroke-width="1.021" >99.45%</text>
<text transform="matrix(0.2912 0 0 0.3065 1014.47 219.30)" fill="#000" stroke="#000" stroke-width="1.004" >M2-2</text>
<text transform="matrix(0.2808 0 0 0.2906 1015.68 251.20)" fill="#000" stroke="#000" stroke-width="1.050" >0.52%</text>
<text transform="matrix(0.2778 0 0 0.2777 709.08 578.00)" fill="#000" stroke="#000" stroke-width="1.080" >10</text>
<text transform="matrix(0.2283 0 0 0.2245 745.37 567.90)" fill="#000" stroke="#000" stroke-width="1.325" >1.5</text>
<text transform="matrix(0.2616 0 0 0.2777 817.61 578.00)" fill="#000" stroke="#000" stroke-width="1.113" >10</text>
<text transform="matrix(0.2426 0 0 0.2245 852.33 567.90)" fill="#000" stroke="#000" stroke-width="1.285" >3</text>
<text transform="matrix(0.2646 0 0 0.2777 885.98 578.00)" fill="#000" stroke="#000" stroke-width="1.106" >10</text>
<text transform="matrix(0.2314 0 0 0.2245 920.14 567.90)" fill="#000" stroke="#000" stroke-width="1.316" >4</text>
<text transform="matrix(0.2646 0 0 0.2777 954.58 578.00)" fill="#000" stroke="#000" stroke-width="1.106" >10</text>
<text transform="matrix(0.2319 0 0 0.2245 988.27 567.90)" fill="#000" stroke="#000" stroke-width="1.315" >5</text>
<text transform="matrix(0.2636 0 0 0.2777 1022.39 578.00)" fill="#000" stroke="#000" stroke-width="1.108" >10</text>
<text transform="matrix(0.2543 0 0 0.2245 1055.73 567.90)" fill="#000" stroke="#000" stroke-width="1.253" >6</text>
<text transform="matrix(0.2646 0 0 0.2777 1090.08 578.00)" fill="#000" stroke="#000" stroke-width="1.106" >10</text>
<text transform="matrix(0.2348 0 0 0.2245 1124.43 567.90)" fill="#000" stroke="#000" stroke-width="1.306" >7</text>
<text transform="matrix(0.2636 0 0 0.2777 1157.79 578.00)" fill="#000" stroke="#000" stroke-width="1.108" >10</text>
<text transform="matrix(0.2511 0 0 0.2245 1193.20 567.90)" fill="#000" stroke="#000" stroke-width="1.262" >8</text>
<text transform="translate(709.50 100.22) rotate(-90) scale(0.2794 0.2763)" stroke="#000" stroke-width="1.080">344</text>
<text transform="translate(710.00 287.70) rotate(-90) scale(0.2804 0.2849)" stroke="#000" stroke-width="1.061">200</text>
<text transform="translate(710.00 419.59) rotate(-90) scale(0.2858 0.2849)" stroke="#000" stroke-width="1.051">100</text>
<text transform="translate(708.20 533.15) rotate(-90) scale(0.2875 0.2518)" stroke="#000" stroke-width="1.113">0</text>
<text transform="translate(659.40 337.60) rotate(-90) scale(0.2808 0.2763)" stroke="#000" stroke-width="1.077">Count</text>
<polygon points="1412.0,524.5 1412.0,524.0 1426.5,522.6 1432.2,520.8 1439.0,517.4 1442.5,520.8 1446.5,507.1 1449.4,508.8 1452.8,487.1 1455.6,483.6 1456.2,477.9 1458.8,455.0 1463.5,400.0 1470.0,300.0 1475.3,200.0 1478.3,140.0 1479.4,157.6 1482.9,242.0 1484.6,300.0 1489.6,400.0 1489.8,430.0 1491.4,460.5 1493.7,491.0 1496.0,509.4 1497.5,518.5 1499.8,520.0 1505.0,523.0 1511.0,524.0 1511.0,524.5" fill="#f9e8e6" stroke="none" style="mix-blend-mode:multiply"/>
<polygon points="1415.0,524.5 1415.0,524.0 1429.9,522.6 1441.3,521.4 1445.3,521.4 1447.1,512.3 1449.9,516.8 1451.6,503.1 1453.9,504.2 1457.4,495.1 1458.5,477.9 1460.2,455.0 1463.1,400.0 1469.7,300.0 1475.0,200.0 1477.8,118.3 1482.9,162.0 1484.7,118.3 1486.5,200.0 1488.8,300.0 1491.8,400.0 1492.9,430.0 1494.4,468.2 1497.5,491.0 1500.5,506.3 1502.0,510.9 1502.8,518.5 1505.9,517.8 1509.7,521.6 1514.3,523.1 1522.0,524.0 1522.0,524.5" fill="#f0f5f2" stroke="none" style="mix-blend-mode:multiply"/>
<line x1="1375.53" y1="526.70" x2="1375.53" y2="530.10" stroke="#808080" stroke-width="1.9" stroke-linecap="butt"/>
<line x1="1382.39" y1="526.70" x2="1382.39" y2="530.10" stroke="#808080" stroke-width="1.9" stroke-linecap="butt"/>
<line x1="1387.99" y1="526.70" x2="1387.99" y2="530.10" stroke="#808080" stroke-width="1.9" stroke-linecap="butt"/>
<line x1="1392.73" y1="526.70" x2="1392.73" y2="530.10" stroke="#808080" stroke-width="1.9" stroke-linecap="butt"/>
<line x1="1396.84" y1="526.70" x2="1396.84" y2="530.10" stroke="#808080" stroke-width="1.9" stroke-linecap="butt"/>
<line x1="1400.46" y1="526.70" x2="1400.46" y2="530.10" stroke="#808080" stroke-width="1.9" stroke-linecap="butt"/>
<line x1="1423.99" y1="526.70" x2="1423.99" y2="530.10" stroke="#808080" stroke-width="1.9" stroke-linecap="butt"/>
<line x1="1435.86" y1="526.70" x2="1435.86" y2="530.10" stroke="#808080" stroke-width="1.9" stroke-linecap="butt"/>
<line x1="1444.28" y1="526.70" x2="1444.28" y2="530.10" stroke="#808080" stroke-width="1.9" stroke-linecap="butt"/>
<line x1="1450.81" y1="526.70" x2="1450.81" y2="530.10" stroke="#808080" stroke-width="1.9" stroke-linecap="butt"/>
<line x1="1456.15" y1="526.70" x2="1456.15" y2="530.10" stroke="#808080" stroke-width="1.9" stroke-linecap="butt"/>
<line x1="1460.66" y1="526.70" x2="1460.66" y2="530.10" stroke="#808080" stroke-width="1.9" stroke-linecap="butt"/>
<line x1="1464.57" y1="526.70" x2="1464.57" y2="530.10" stroke="#808080" stroke-width="1.9" stroke-linecap="butt"/>
<line x1="1468.02" y1="526.70" x2="1468.02" y2="530.10" stroke="#808080" stroke-width="1.9" stroke-linecap="butt"/>
<line x1="1491.60" y1="526.70" x2="1491.60" y2="530.10" stroke="#808080" stroke-width="1.9" stroke-linecap="butt"/>
<line x1="1503.59" y1="526.70" x2="1503.59" y2="530.10" stroke="#808080" stroke-width="1.9" stroke-linecap="butt"/>
<line x1="1512.10" y1="526.70" x2="1512.10" y2="530.10" stroke="#808080" stroke-width="1.9" stroke-linecap="butt"/>
<line x1="1518.70" y1="526.70" x2="1518.70" y2="530.10" stroke="#808080" stroke-width="1.9" stroke-linecap="butt"/>
<line x1="1524.09" y1="526.70" x2="1524.09" y2="530.10" stroke="#808080" stroke-width="1.9" stroke-linecap="butt"/>
<line x1="1528.65" y1="526.70" x2="1528.65" y2="530.10" stroke="#808080" stroke-width="1.9" stroke-linecap="butt"/>
<line x1="1532.60" y1="526.70" x2="1532.60" y2="530.10" stroke="#808080" stroke-width="1.9" stroke-linecap="butt"/>
<line x1="1536.08" y1="526.70" x2="1536.08" y2="530.10" stroke="#808080" stroke-width="1.9" stroke-linecap="butt"/>
<line x1="1559.67" y1="526.70" x2="1559.67" y2="530.10" stroke="#808080" stroke-width="1.9" stroke-linecap="butt"/>
<line x1="1571.64" y1="526.70" x2="1571.64" y2="530.10" stroke="#808080" stroke-width="1.9" stroke-linecap="butt"/>
<line x1="1580.14" y1="526.70" x2="1580.14" y2="530.10" stroke="#808080" stroke-width="1.9" stroke-linecap="butt"/>
<line x1="1586.73" y1="526.70" x2="1586.73" y2="530.10" stroke="#808080" stroke-width="1.9" stroke-linecap="butt"/>
<line x1="1592.11" y1="526.70" x2="1592.11" y2="530.10" stroke="#808080" stroke-width="1.9" stroke-linecap="butt"/>
<line x1="1596.67" y1="526.70" x2="1596.67" y2="530.10" stroke="#808080" stroke-width="1.9" stroke-linecap="butt"/>
<line x1="1600.61" y1="526.70" x2="1600.61" y2="530.10" stroke="#808080" stroke-width="1.9" stroke-linecap="butt"/>
<line x1="1604.09" y1="526.70" x2="1604.09" y2="530.10" stroke="#808080" stroke-width="1.9" stroke-linecap="butt"/>
<line x1="1627.58" y1="526.70" x2="1627.58" y2="530.10" stroke="#808080" stroke-width="1.9" stroke-linecap="butt"/>
<line x1="1639.50" y1="526.70" x2="1639.50" y2="530.10" stroke="#808080" stroke-width="1.9" stroke-linecap="butt"/>
<line x1="1647.96" y1="526.70" x2="1647.96" y2="530.10" stroke="#808080" stroke-width="1.9" stroke-linecap="butt"/>
<line x1="1654.52" y1="526.70" x2="1654.52" y2="530.10" stroke="#808080" stroke-width="1.9" stroke-linecap="butt"/>
<line x1="1659.88" y1="526.70" x2="1659.88" y2="530.10" stroke="#808080" stroke-width="1.9" stroke-linecap="butt"/>
<line x1="1664.41" y1="526.70" x2="1664.41" y2="530.10" stroke="#808080" stroke-width="1.9" stroke-linecap="butt"/>
<line x1="1668.34" y1="526.70" x2="1668.34" y2="530.10" stroke="#808080" stroke-width="1.9" stroke-linecap="butt"/>
<line x1="1671.80" y1="526.70" x2="1671.80" y2="530.10" stroke="#808080" stroke-width="1.9" stroke-linecap="butt"/>
<line x1="1695.25" y1="526.70" x2="1695.25" y2="530.10" stroke="#808080" stroke-width="1.9" stroke-linecap="butt"/>
<line x1="1707.15" y1="526.70" x2="1707.15" y2="530.10" stroke="#808080" stroke-width="1.9" stroke-linecap="butt"/>
<line x1="1715.60" y1="526.70" x2="1715.60" y2="530.10" stroke="#808080" stroke-width="1.9" stroke-linecap="butt"/>
<line x1="1722.15" y1="526.70" x2="1722.15" y2="530.10" stroke="#808080" stroke-width="1.9" stroke-linecap="butt"/>
<line x1="1727.50" y1="526.70" x2="1727.50" y2="530.10" stroke="#808080" stroke-width="1.9" stroke-linecap="butt"/>
<line x1="1732.03" y1="526.70" x2="1732.03" y2="530.10" stroke="#808080" stroke-width="1.9" stroke-linecap="butt"/>
<line x1="1735.95" y1="526.70" x2="1735.95" y2="530.10" stroke="#808080" stroke-width="1.9" stroke-linecap="butt"/>
<line x1="1739.41" y1="526.70" x2="1739.41" y2="530.10" stroke="#808080" stroke-width="1.9" stroke-linecap="butt"/>
<line x1="1764.11" y1="526.70" x2="1764.11" y2="530.10" stroke="#808080" stroke-width="1.9" stroke-linecap="butt"/>
<line x1="1776.76" y1="526.70" x2="1776.76" y2="530.10" stroke="#808080" stroke-width="1.9" stroke-linecap="butt"/>
<line x1="1785.73" y1="526.70" x2="1785.73" y2="530.10" stroke="#808080" stroke-width="1.9" stroke-linecap="butt"/>
<line x1="1792.69" y1="526.70" x2="1792.69" y2="530.10" stroke="#808080" stroke-width="1.9" stroke-linecap="butt"/>
<line x1="1798.37" y1="526.70" x2="1798.37" y2="530.10" stroke="#808080" stroke-width="1.9" stroke-linecap="butt"/>
<line x1="1803.18" y1="526.70" x2="1803.18" y2="530.10" stroke="#808080" stroke-width="1.9" stroke-linecap="butt"/>
<line x1="1807.34" y1="526.70" x2="1807.34" y2="530.10" stroke="#808080" stroke-width="1.9" stroke-linecap="butt"/>
<line x1="1811.01" y1="526.70" x2="1811.01" y2="530.10" stroke="#808080" stroke-width="1.9" stroke-linecap="butt"/>
<polyline points="1412.0,524.0 1426.5,522.6 1432.2,520.8 1439.0,517.4 1442.5,520.8 1446.5,507.1 1449.4,508.8 1452.8,487.1 1455.6,483.6 1456.2,477.9 1458.8,455.0 1463.5,400.0 1470.0,300.0 1475.3,200.0 1478.3,140.0 1479.4,157.6 1482.9,242.0 1484.6,300.0 1489.6,400.0 1489.8,430.0 1491.4,460.5 1493.7,491.0 1496.0,509.4 1497.5,518.5 1499.8,520.0 1505.0,523.0 1511.0,524.0" fill="none" stroke="#cc2020" stroke-width="2.9" stroke-linejoin="miter" stroke-miterlimit="3"/>
<polyline points="1415.0,524.0 1429.9,522.6 1441.3,521.4 1445.3,521.4 1447.1,512.3 1449.9,516.8 1451.6,503.1 1453.9,504.2 1457.4,495.1 1458.5,477.9 1460.2,455.0 1463.1,400.0 1469.7,300.0 1475.0,200.0 1477.8,118.3 1482.9,162.0 1484.7,118.3 1486.5,200.0 1488.8,300.0 1491.8,400.0 1492.9,430.0 1494.4,468.2 1497.5,491.0 1500.5,506.3 1502.0,510.9 1502.8,518.5 1505.9,517.8 1509.7,521.6 1514.3,523.1 1522.0,524.0" fill="none" stroke="#127012" stroke-width="2.9" stroke-linejoin="miter" stroke-miterlimit="3"/>
<line x1="1368.30" y1="74.60" x2="1814.60" y2="74.60" stroke="#000" stroke-width="2.8" stroke-linecap="butt"/>
<line x1="1368.30" y1="73.20" x2="1368.30" y2="526.00" stroke="#000" stroke-width="2.8" stroke-linecap="butt"/>
<line x1="1814.60" y1="73.20" x2="1814.60" y2="526.00" stroke="#000" stroke-width="2.8" stroke-linecap="butt"/>
<line x1="1366.90" y1="524.50" x2="1816.00" y2="524.50" stroke="#000" stroke-width="3.0" stroke-linecap="butt"/>
<line x1="1362.80" y1="497.90" x2="1368.30" y2="497.90" stroke="#666" stroke-width="1.6" stroke-linecap="butt"/>
<line x1="1362.80" y1="471.50" x2="1368.30" y2="471.50" stroke="#666" stroke-width="1.6" stroke-linecap="butt"/>
<line x1="1362.80" y1="445.50" x2="1368.30" y2="445.50" stroke="#666" stroke-width="1.6" stroke-linecap="butt"/>
<line x1="1362.80" y1="419.10" x2="1368.30" y2="419.10" stroke="#666" stroke-width="1.6" stroke-linecap="butt"/>
<line x1="1362.80" y1="367.10" x2="1368.30" y2="367.10" stroke="#666" stroke-width="1.6" stroke-linecap="butt"/>
<line x1="1362.80" y1="340.30" x2="1368.30" y2="340.30" stroke="#666" stroke-width="1.6" stroke-linecap="butt"/>
<line x1="1362.80" y1="312.80" x2="1368.30" y2="312.80" stroke="#666" stroke-width="1.6" stroke-linecap="butt"/>
<line x1="1362.80" y1="286.40" x2="1368.30" y2="286.40" stroke="#666" stroke-width="1.6" stroke-linecap="butt"/>
<line x1="1362.80" y1="234.40" x2="1368.30" y2="234.40" stroke="#666" stroke-width="1.6" stroke-linecap="butt"/>
<line x1="1362.80" y1="207.50" x2="1368.30" y2="207.50" stroke="#666" stroke-width="1.6" stroke-linecap="butt"/>
<line x1="1362.80" y1="183.00" x2="1368.30" y2="183.00" stroke="#666" stroke-width="1.6" stroke-linecap="butt"/>
<line x1="1362.80" y1="157.80" x2="1368.30" y2="157.80" stroke="#666" stroke-width="1.6" stroke-linecap="butt"/>
<line x1="1362.80" y1="104.00" x2="1368.30" y2="104.00" stroke="#666" stroke-width="1.6" stroke-linecap="butt"/>
<line x1="1362.80" y1="74.60" x2="1368.30" y2="74.60" stroke="#666" stroke-width="1.6" stroke-linecap="butt"/>
<line x1="1357.30" y1="524.50" x2="1368.30" y2="524.50" stroke="#000" stroke-width="2.8" stroke-linecap="butt"/>
<line x1="1357.30" y1="393.40" x2="1368.30" y2="393.40" stroke="#000" stroke-width="2.8" stroke-linecap="butt"/>
<line x1="1357.30" y1="260.60" x2="1368.30" y2="260.60" stroke="#000" stroke-width="2.8" stroke-linecap="butt"/>
<line x1="1357.30" y1="130.90" x2="1368.30" y2="130.90" stroke="#000" stroke-width="2.8" stroke-linecap="butt"/>
<line x1="1357.30" y1="74.60" x2="1368.30" y2="74.60" stroke="#000" stroke-width="2.8" stroke-linecap="butt"/>
<line x1="1368.30" y1="524.50" x2="1368.30" y2="535.00" stroke="#000" stroke-width="3.0" stroke-linecap="butt"/>
<line x1="1403.70" y1="524.50" x2="1403.70" y2="535.00" stroke="#000" stroke-width="3.0" stroke-linecap="butt"/>
<line x1="1471.10" y1="524.50" x2="1471.10" y2="535.00" stroke="#000" stroke-width="3.0" stroke-linecap="butt"/>
<line x1="1539.20" y1="524.50" x2="1539.20" y2="535.00" stroke="#000" stroke-width="3.0" stroke-linecap="butt"/>
<line x1="1607.20" y1="524.50" x2="1607.20" y2="535.00" stroke="#000" stroke-width="3.0" stroke-linecap="butt"/>
<line x1="1674.90" y1="524.50" x2="1674.90" y2="535.00" stroke="#000" stroke-width="3.0" stroke-linecap="butt"/>
<line x1="1742.50" y1="524.50" x2="1742.50" y2="535.00" stroke="#000" stroke-width="3.0" stroke-linecap="butt"/>
<line x1="1814.30" y1="524.50" x2="1814.30" y2="535.00" stroke="#000" stroke-width="3.0" stroke-linecap="butt"/>
<line x1="1373.80" y1="277.70" x2="1742.40" y2="277.70" stroke="#000" stroke-width="3.9" stroke-linecap="butt"/>
<line x1="1373.80" y1="259.70" x2="1373.80" y2="294.70" stroke="#000" stroke-width="3.9" stroke-linecap="butt"/>
<line x1="1503.80" y1="259.70" x2="1503.80" y2="294.70" stroke="#000" stroke-width="3.9" stroke-linecap="butt"/>
<line x1="1742.40" y1="259.70" x2="1742.40" y2="294.70" stroke="#000" stroke-width="3.9" stroke-linecap="butt"/>
<text x="1461.58" y="56.70" style="font-size:42.73px;letter-spacing:1.312px">Double Mutant</text>
<text transform="matrix(0.2716 0 0 0.2906 1510.83 218.20)" fill="#000" stroke="#000" stroke-width="1.067" >M2-1</text>
<text transform="matrix(0.2792 0 0 0.2906 1511.60 250.10)" fill="#000" stroke="#000" stroke-width="1.053" >99.61%</text>
<text transform="matrix(0.2865 0 0 0.2906 1675.31 218.20)" fill="#000" stroke="#000" stroke-width="1.040" >M2-2</text>
<text transform="matrix(0.2793 0 0 0.2906 1676.48 250.10)" fill="#000" stroke="#000" stroke-width="1.053" >0.39%</text>
<text transform="matrix(0.2626 0 0 0.2676 1342.30 575.60)" fill="#000" stroke="#000" stroke-width="1.132" >10</text>
<text transform="matrix(0.2165 0 0 0.2129 1378.57 565.60)" fill="#000" stroke="#000" stroke-width="1.397" >1.5</text>
<text transform="matrix(0.2545 0 0 0.2676 1449.96 575.60)" fill="#000" stroke="#000" stroke-width="1.149" >10</text>
<text transform="matrix(0.2277 0 0 0.2129 1484.69 565.60)" fill="#000" stroke="#000" stroke-width="1.362" >3</text>
<text transform="matrix(0.2545 0 0 0.2676 1517.16 575.60)" fill="#000" stroke="#000" stroke-width="1.149" >10</text>
<text transform="matrix(0.2294 0 0 0.2129 1551.14 565.60)" fill="#000" stroke="#000" stroke-width="1.356" >4</text>
<text transform="matrix(0.2737 0 0 0.2676 1584.61 575.60)" fill="#000" stroke="#000" stroke-width="1.108" >10</text>
<text transform="matrix(0.2511 0 0 0.2129 1619.20 565.60)" fill="#000" stroke="#000" stroke-width="1.293" >5</text>
<text transform="matrix(0.2646 0 0 0.2676 1652.38 575.60)" fill="#000" stroke="#000" stroke-width="1.127" >10</text>
<text transform="matrix(0.2543 0 0 0.2129 1686.73 565.60)" fill="#000" stroke="#000" stroke-width="1.284" >6</text>
<text transform="matrix(0.2646 0 0 0.2676 1720.08 575.60)" fill="#000" stroke="#000" stroke-width="1.127" >10</text>
<text transform="matrix(0.2565 0 0 0.2129 1753.42 565.60)" fill="#000" stroke="#000" stroke-width="1.278" >7</text>
<text transform="matrix(0.2636 0 0 0.2676 1787.89 575.60)" fill="#000" stroke="#000" stroke-width="1.129" >10</text>
<text transform="matrix(0.2489 0 0 0.2129 1823.30 565.60)" fill="#000" stroke="#000" stroke-width="1.299" >8</text>
<text transform="translate(1340.90 100.93) rotate(-90) scale(0.2836 0.2633)" stroke="#000" stroke-width="1.097">340</text>
<text transform="translate(1341.00 282.78) rotate(-90) scale(0.2766 0.2647)" stroke="#000" stroke-width="1.108">200</text>
<text transform="translate(1341.00 417.46) rotate(-90) scale(0.2819 0.2647)" stroke="#000" stroke-width="1.098">100</text>
<text transform="translate(1340.60 531.04) rotate(-90) scale(0.2604 0.2576)" stroke="#000" stroke-width="1.158">0</text>
<text transform="translate(1293.00 336.69) rotate(-90) scale(0.2774 0.2906)" stroke="#000" stroke-width="1.056">Count</text>
</svg>
</body></html>
